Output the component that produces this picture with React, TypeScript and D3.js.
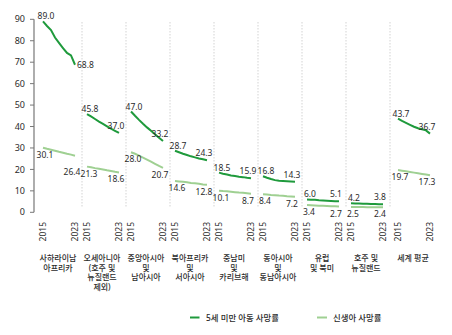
import React from "react";
import * as d3 from "d3";

const years = [2015, 2016, 2017, 2018, 2019, 2020, 2021, 2022, 2023];

const regionLabels: string[][] = [
  ["사하라이남", "아프리카"],
  ["오세아니아", "(호주 및", "뉴질랜드", "제외)"],
  ["중앙아시아", "및", "남아시아"],
  ["북아프리카", "및", "서아시아"],
  ["중남미", "및", "카리브해"],
  ["동아시아", "및", "동남아시아"],
  ["유럽", "및 북미"],
  ["호주 및", "뉴질랜드"],
  ["세계 평균"],
];

const under5: number[][] = [
  [89.0, 86.9, 85.0, 81.5, 79.0, 76.6, 74.3, 73.2, 68.8],
  [45.8, 44.7, 43.5, 42.3, 41.2, 40.1, 39.0, 38.0, 37.0],
  [47.0, 45.0, 43.1, 41.3, 39.6, 38.0, 36.4, 34.8, 33.2],
  [28.7, 28.0, 27.3, 26.7, 26.1, 25.6, 25.1, 24.7, 24.3],
  [18.5, 18.0, 17.6, 17.2, 16.9, 16.6, 16.4, 16.1, 15.9],
  [16.8, 16.1, 15.5, 15.0, 14.7, 14.6, 14.5, 14.4, 14.3],
  [6.0, 5.9, 5.8, 5.6, 5.5, 5.4, 5.3, 5.2, 5.1],
  [4.2, 4.1, 4.1, 4.0, 4.0, 3.9, 3.9, 3.8, 3.8],
  [43.7, 42.6, 41.7, 40.8, 39.9, 39.2, 38.7, 38.2, 36.7],
];

const neonatal: number[][] = [
  [30.1, 29.6, 29.2, 28.7, 28.2, 27.8, 27.3, 26.9, 26.4],
  [21.3, 21.0, 20.6, 20.3, 20.0, 19.6, 19.3, 18.9, 18.6],
  [28.0, 27.3, 26.4, 25.5, 24.6, 23.6, 22.6, 21.6, 20.7],
  [14.6, 14.4, 14.2, 14.0, 13.7, 13.5, 13.3, 13.0, 12.8],
  [10.1, 9.9, 9.8, 9.6, 9.4, 9.2, 9.1, 8.9, 8.7],
  [8.4, 8.3, 8.1, 8.0, 7.8, 7.7, 7.5, 7.4, 7.2],
  [3.4, 3.3, 3.2, 3.1, 3.0, 2.9, 2.8, 2.8, 2.7],
  [2.5, 2.5, 2.5, 2.5, 2.4, 2.4, 2.4, 2.4, 2.4],
  [19.7, 19.4, 19.1, 18.8, 18.5, 18.2, 17.9, 17.6, 17.3],
];

const yTicks = [0, 10, 20, 30, 40, 50, 60, 70, 80, 90];
const legendLabels = ["5세 미만 아동 사망률", "신생아 사망률"];

const DARK = "#1f9a3c";
const LIGHT = "#9fd092";
const TEXT = "#2b2b2b";
const FONT = "'Noto Sans', 'Noto Sans CJK KR', sans-serif";

export default function App() {
  const W = 452;
  const H = 335;
  const axisX = 34;
  const groups = regionLabels.map((_, i) => i);
  const band = d3.scaleBand<number>().domain(groups).range([38, 38 + 44 * 9]).padding(0);
  const worldGap = 3;
  const groupStart = (g: number) => (band(g) as number) + (g === 8 ? worldGap : 0);
  const yearX = d3.scaleLinear().domain([2015, 2023]).range([5, 37]);
  const y = d3.scaleLinear().domain([0, 90]).range([212.3, 19.3]);
  const x = (g: number, yr: number) => groupStart(g) + yearX(yr);

  const line = (g: number) =>
    d3
      .line<number>()
      .x((_, i) => x(g, years[i]))
      .y((v) => y(v))
      .curve(d3.curveLinear);

  const fmt = d3.format(".1f");
  const first = years[0];
  const last = years[years.length - 1];

  return (
    <svg
      width={W}
      height={H}
      style={{ position: "absolute", left: 0, top: 0, background: "#fff" }}
      fontFamily={FONT}
    >
      {/* separators */}
      {groups.slice(1).map((g) => (
        <line
          key={"sep" + g}
          x1={band(g) as number}
          x2={band(g) as number}
          y1={22}
          y2={207}
          stroke="#c8c8c8"
          strokeWidth={0.8}
          strokeDasharray="1.5,1.5"
        />
      ))}

      {/* y axis */}
      <line x1={axisX} x2={axisX} y1={y(90)} y2={y(0)} stroke="#777" strokeWidth={1.2} />
      {yTicks.map((t) => (
        <g key={"t" + t}>
          <line x1={axisX - 4} x2={axisX} y1={y(t)} y2={y(t)} stroke="#777" strokeWidth={1} />
          <text x={axisX - 9} y={y(t)} dy="0.35em" textAnchor="end" fontSize={9} fill={TEXT}>
            {t}
          </text>
        </g>
      ))}

      {/* lines */}
      {groups.map((g) => (
        <g key={"l" + g}>
          <path d={line(g)(neonatal[g]) || ""} fill="none" stroke={LIGHT} strokeWidth={2} />
          <path d={line(g)(under5[g]) || ""} fill="none" stroke={DARK} strokeWidth={2} />
        </g>
      ))}

      {/* value labels */}
      {groups.map((g) => {
        const u0 = under5[g][0];
        const u1 = under5[g][under5[g].length - 1];
        const n0 = neonatal[g][0];
        const n1 = neonatal[g][neonatal[g].length - 1];
        const endRight = g === 0;
        return (
          <g key={"v" + g} fontSize={8.5} fill={TEXT}>
            <text x={x(g, first) + 3} y={y(u0) - 2} textAnchor="middle">
              {fmt(u0)}
            </text>
            {endRight ? (
              <text x={x(g, last) + 2} y={y(u1) + 3} textAnchor="start">
                {fmt(u1)}
              </text>
            ) : (
              <text x={x(g, last) - 3} y={y(u1) - 4} textAnchor="middle">
                {fmt(u1)}
              </text>
            )}
            <text x={x(g, first) + 2} y={y(n0) + 10} textAnchor="middle">
              {fmt(n0)}
            </text>
            <text x={x(g, last) - 3} y={y(n1) + (g === 0 ? 19 : 10)} textAnchor="middle">
              {fmt(n1)}
            </text>
          </g>
        );
      })}

      {/* year labels */}
      {groups.map((g) =>
        [first, last].map((yr) => (
          <text
            key={"y" + g + yr}
            transform={`translate(${x(g, yr) + 3},222) rotate(-90)`}
            textAnchor="end"
            fontSize={8.5}
            fill={TEXT}
          >
            {yr}
          </text>
        ))
      )}

      {/* region labels */}
      {groups.map((g) => {
        const cx = (x(g, first) + x(g, last)) / 2 - 1;
        return (
          <text key={"r" + g} textAnchor="middle" fontSize={8} fontWeight={500} fill={TEXT}>
            {regionLabels[g].map((s, i) => (
              <tspan key={i} x={cx} y={261 + i * 9.5}>
                {s}
              </tspan>
            ))}
          </text>
        );
      })}

      {/* legend */}
      <g fontSize={8.4} fontWeight={500} fill={TEXT}>
        <line x1={190} x2={199.5} y1={317.5} y2={317.5} stroke={DARK} strokeWidth={2} />
        <text x={206} y={320.5}>{legendLabels[0]}</text>
        <line x1={317} x2={327} y1={317.5} y2={317.5} stroke={LIGHT} strokeWidth={2} />
        <text x={333} y={320.5}>{legendLabels[1]}</text>
      </g>
    </svg>
  );
}
